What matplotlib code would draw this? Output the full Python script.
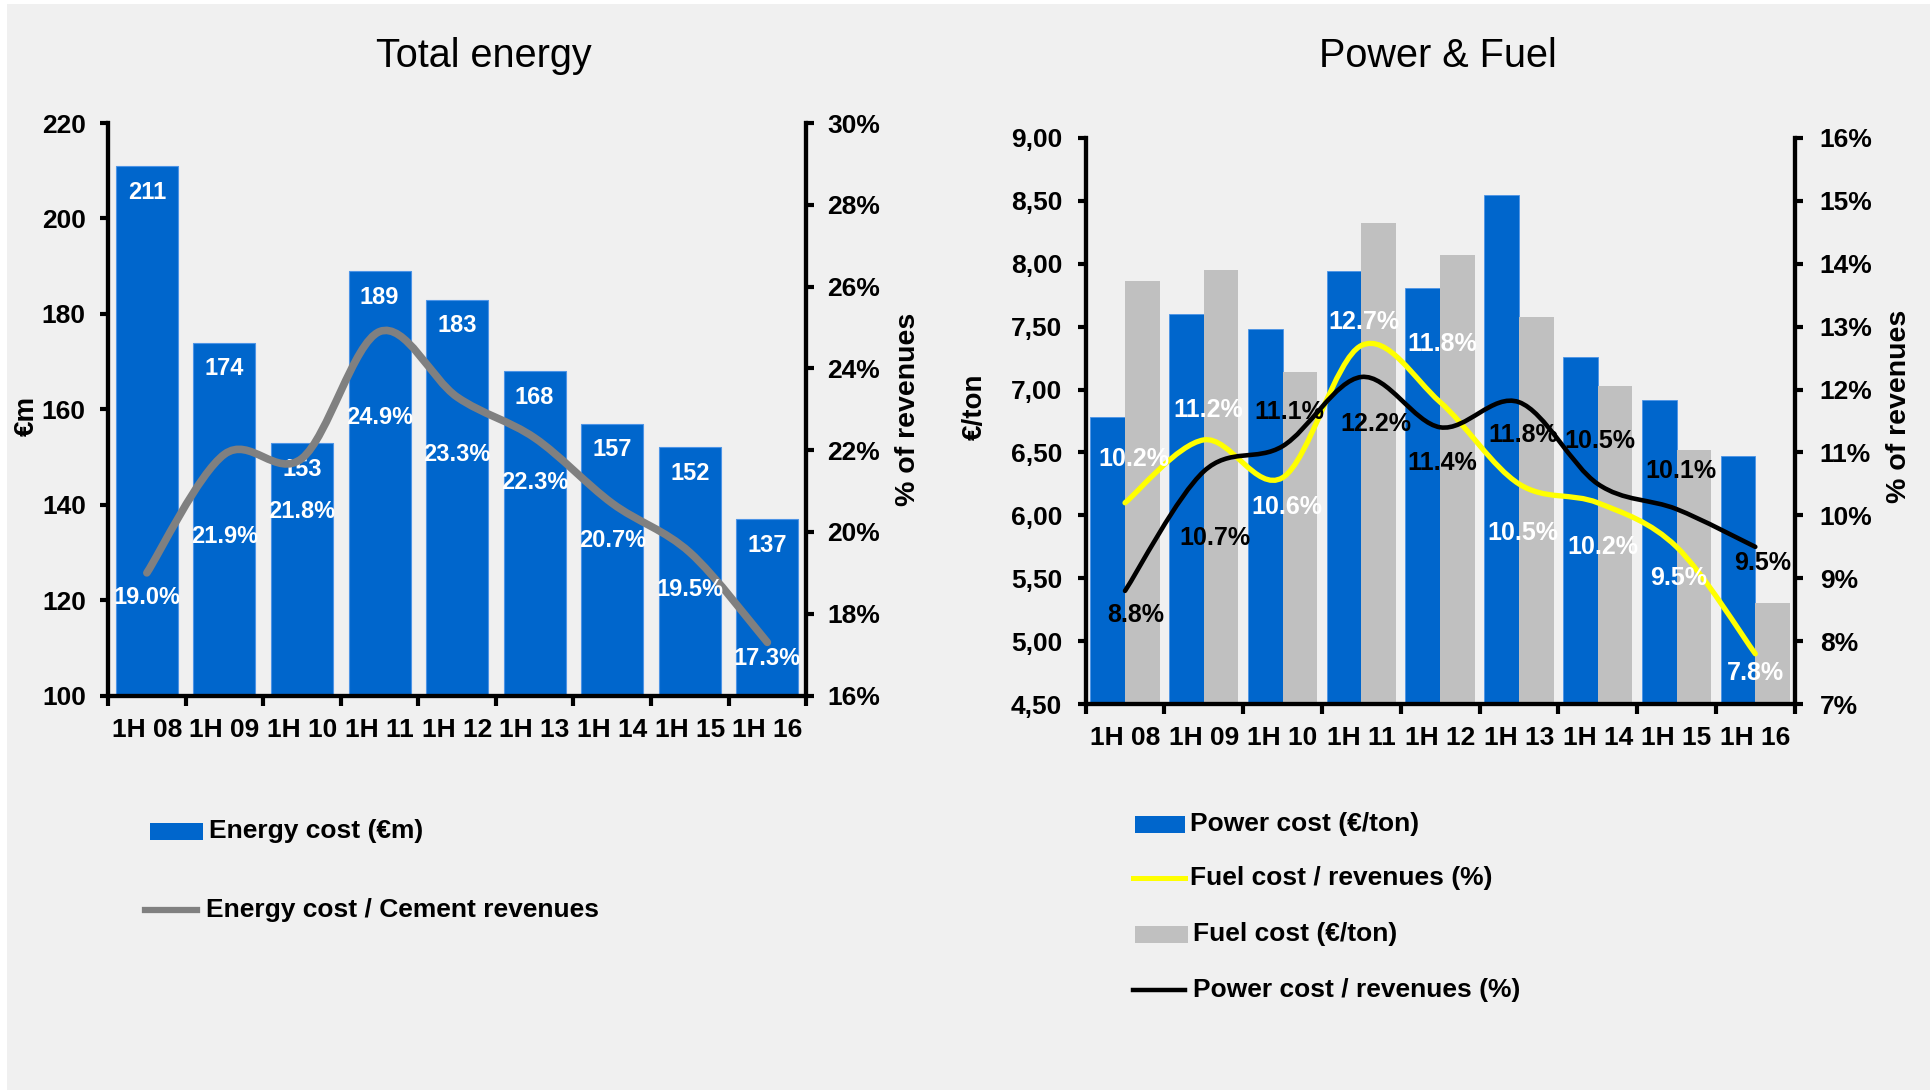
import numpy as np
import matplotlib

matplotlib.use("Agg")
import matplotlib.pyplot as plt
from matplotlib.path import Path
from matplotlib.patches import PathPatch, Rectangle
from matplotlib.lines import Line2D
from matplotlib.ticker import FuncFormatter

plt.rcParams["font.family"] = ["Liberation Sans", "DejaVu Sans"]

# ---- data ----
periods = ["1H 08", "1H 09", "1H 10", "1H 11", "1H 12", "1H 13", "1H 14", "1H 15", "1H 16"]

energy_cost = [211, 174, 153, 189, 183, 168, 157, 152, 137]
energy_share = [19.0, 21.9, 21.8, 24.9, 23.3, 22.3, 20.7, 19.5, 17.3]
# where the % labels sit (right-axis units)
energy_share_label_y = [18.4, 19.9, 20.5, 22.8, 21.9, 21.2, 19.8, 18.6, 16.9]

power_cost = [6.78, 7.60, 7.48, 7.94, 7.81, 8.55, 7.26, 6.92, 6.47]
fuel_cost = [7.86, 7.95, 7.14, 8.32, 8.07, 7.58, 7.03, 6.52, 5.30]
fuel_share = [10.2, 11.2, 10.6, 12.7, 11.8, 10.5, 10.2, 9.5, 7.8]
power_share = [8.8, 10.7, 11.1, 12.2, 11.4, 11.8, 10.5, 10.1, 9.5]
# label positions for the right chart (x offset in categories, y in % units)
fuel_label_dx = [0.11, 0.06, 0.06, 0.03, 0.03, 0.05, 0.06, 0.03, 0.0]
fuel_label_y = [10.89, 11.68, 10.13, 13.07, 12.73, 9.72, 9.50, 9.00, 7.49]
power_label_dx = [0.14, 0.14, 0.09, 0.19, 0.03, 0.05, 0.03, 0.05, 0.09]
power_label_y = [8.41, 9.64, 11.64, 11.46, 10.84, 11.27, 11.19, 10.70, 9.25]

BLUE = "#0066CC"
BAR_GREY = "#C0C0C0"
LINE_GREY = "#808080"
YELLOW = "#FFFF00"
BG = "#F0F0F0"


def smooth_path(x, y):
    # Excel-style smoothed line: cubic Bezier through every point
    p = np.column_stack([x, y]).astype(float)
    ext = np.vstack([p[0], p, p[-1]])
    verts = [p[0]]
    codes = [Path.MOVETO]
    for i in range(len(p) - 1):
        c1 = p[i] + (ext[i + 2] - ext[i]) / 6
        c2 = p[i + 1] - (ext[i + 3] - ext[i + 1]) / 6
        verts += [c1, c2, p[i + 1]]
        codes += [Path.CURVE4] * 3
    return Path(verts, codes)


def style_axes(ax, ax2, left_pad, right_pad):
    ax.set_facecolor("none")
    for side in ["left", "bottom", "right"]:
        ax.spines[side].set_linewidth(3)
        ax2.spines[side].set_linewidth(3)
    ax.spines["top"].set_visible(False)
    ax2.spines["top"].set_visible(False)
    ax.tick_params(axis="y", direction="out", length=6, width=3, labelsize=19, pad=left_pad)
    ax2.tick_params(axis="y", direction="out", length=6, width=3, labelsize=19, pad=right_pad)
    n = len(periods)
    ax.set_xlim(-0.5, n - 0.5)
    ax.set_xticks(np.arange(n + 1) - 0.5)
    ax.set_xticklabels([])
    ax.set_xticks(np.arange(n), minor=True)
    ax.set_xticklabels(periods, minor=True)
    ax.tick_params(axis="x", which="major", direction="out", length=7, width=3)
    ax.tick_params(axis="x", which="minor", length=0, labelsize=19, pad=16)
    for lab in ax.get_yticklabels() + ax2.get_yticklabels() + ax.get_xticklabels(minor=True):
        lab.set_fontweight("bold")


fig = plt.figure(figsize=(19.3, 10.9), dpi=100, facecolor="white")
fig.patches.append(Rectangle((0.0036, 0), 0.9964, 0.9963, transform=fig.transFigure,
                             facecolor=BG, edgecolor="none", zorder=-10))

x = np.arange(len(periods))

# ---- left chart: total energy ----
ax = fig.add_axes([0.0560, 0.3619, 0.3617, 0.5252])
ax2 = ax.twinx()
ax.bar(x, energy_cost, width=0.8, color=BLUE, edgecolor="#4D94E6", linewidth=0.8)
ax.set_ylim(100, 220)
ax.set_yticks(np.arange(100, 221, 20))
ax2.set_ylim(16, 30)
ax2.set_yticks(np.arange(16, 31, 2))
ax2.yaxis.set_major_formatter(FuncFormatter(lambda v, _: f"{v:.0f}%"))
style_axes(ax, ax2, left_pad=10, right_pad=9)

for xi, v in zip(x, energy_cost):
    ax.annotate(f"{v}", (xi, v), xytext=(0, -19), textcoords="offset points",
                ha="center", va="center", color="white", fontsize=17, fontweight="bold")

ax2.add_patch(PathPatch(smooth_path(x, energy_share), fill=False, edgecolor=LINE_GREY,
                        linewidth=5.5, capstyle="round", joinstyle="round"))
for xi, v, ly in zip(x, energy_share, energy_share_label_y):
    ax2.text(xi, ly, f"{v:.1f}%", ha="center", va="center", color="white",
             fontsize=17, fontweight="bold")

# ---- right chart: power & fuel ----
bx = fig.add_axes([0.5625, 0.3540, 0.3674, 0.5195])
bx2 = bx.twinx()
bx.bar(x - 0.22, power_cost, width=0.44, color=BLUE, edgecolor="#4D94E6", linewidth=0.6)
bx.bar(x + 0.22, fuel_cost, width=0.44, color=BAR_GREY, edgecolor="none")
bx.set_ylim(4.5, 9.0)
bx.set_yticks(np.arange(4.5, 9.01, 0.5))
bx.yaxis.set_major_formatter(FuncFormatter(lambda v, _: f"{v:.2f}".replace(".", ",")))
bx2.set_ylim(7, 16)
bx2.set_yticks(np.arange(7, 17, 1))
bx2.yaxis.set_major_formatter(FuncFormatter(lambda v, _: f"{v:.0f}%"))
style_axes(bx, bx2, left_pad=11, right_pad=12)

bx2.add_patch(PathPatch(smooth_path(x, fuel_share), fill=False, edgecolor=YELLOW,
                        linewidth=3.8, capstyle="round", joinstyle="round"))
bx2.add_patch(PathPatch(smooth_path(x, power_share), fill=False, edgecolor="black",
                        linewidth=3.3, capstyle="round", joinstyle="round"))
for xi, v, dx, ly in zip(x, fuel_share, fuel_label_dx, fuel_label_y):
    bx2.text(xi + dx, ly, f"{v:.1f}%", ha="center", va="center", color="white",
             fontsize=18, fontweight="bold")
for xi, v, dx, ly in zip(x, power_share, power_label_dx, power_label_y):
    bx2.text(xi + dx, ly, f"{v:.1f}%", ha="center", va="center", color="black",
             fontsize=18, fontweight="bold")

# ---- titles and axis labels ----
fig.text(0.2507, 0.949, "Total energy", ha="center", va="center", fontsize=28.5)
fig.text(0.745, 0.949, "Power & Fuel", ha="center", va="center", fontsize=28.5)
fig.text(0.014, 0.618, "€m", rotation=90, ha="center", va="center", fontsize=20, fontweight="bold")
fig.text(0.4707, 0.624, "% of revenues", rotation=90, ha="center", va="center",
         fontsize=20.5, fontweight="bold")
fig.text(0.505, 0.627, "€/ton", rotation=90, ha="center", va="center", fontsize=20, fontweight="bold")
fig.text(0.984, 0.627, "% of revenues", rotation=90, ha="center", va="center",
         fontsize=20.5, fontweight="bold")


# ---- legends (drawn by hand so the spacing matches) ----
W, H = 1930.0, 1090.0


def legend_patch(x0, x1, yc, h, color, label, tx):
    fig.patches.append(Rectangle((x0 / W, 1 - (yc + h / 2) / H), (x1 - x0) / W, h / H,
                                 transform=fig.transFigure, facecolor=color, edgecolor="none"))
    fig.text(tx / W, 1 - yc / H, label, ha="left", va="center", fontsize=19, fontweight="bold")


def legend_line(x0, x1, yc, lw, color, label, tx):
    fig.lines.append(Line2D([x0 / W, x1 / W], [1 - yc / H, 1 - yc / H], transform=fig.transFigure,
                            color=color, linewidth=lw))
    fig.text(tx / W, 1 - yc / H, label, ha="left", va="center", fontsize=19, fontweight="bold")


legend_patch(150, 203, 831, 17, BLUE, "Energy cost (€m)", 209)
legend_line(145, 197, 910, 4.5, LINE_GREY, "Energy cost / Cement revenues", 206)

legend_patch(1135, 1185, 824, 17, BLUE, "Power cost (€/ton)", 1190)
legend_line(1133, 1185, 878, 3.6, YELLOW, "Fuel cost / revenues (%)", 1190)
legend_patch(1135, 1188, 934, 17, BAR_GREY, "Fuel cost (€/ton)", 1193)
legend_line(1133, 1185, 990, 3.2, "black", "Power cost / revenues (%)", 1193)

fig.savefig("out.png", dpi=100, facecolor=fig.get_facecolor())
